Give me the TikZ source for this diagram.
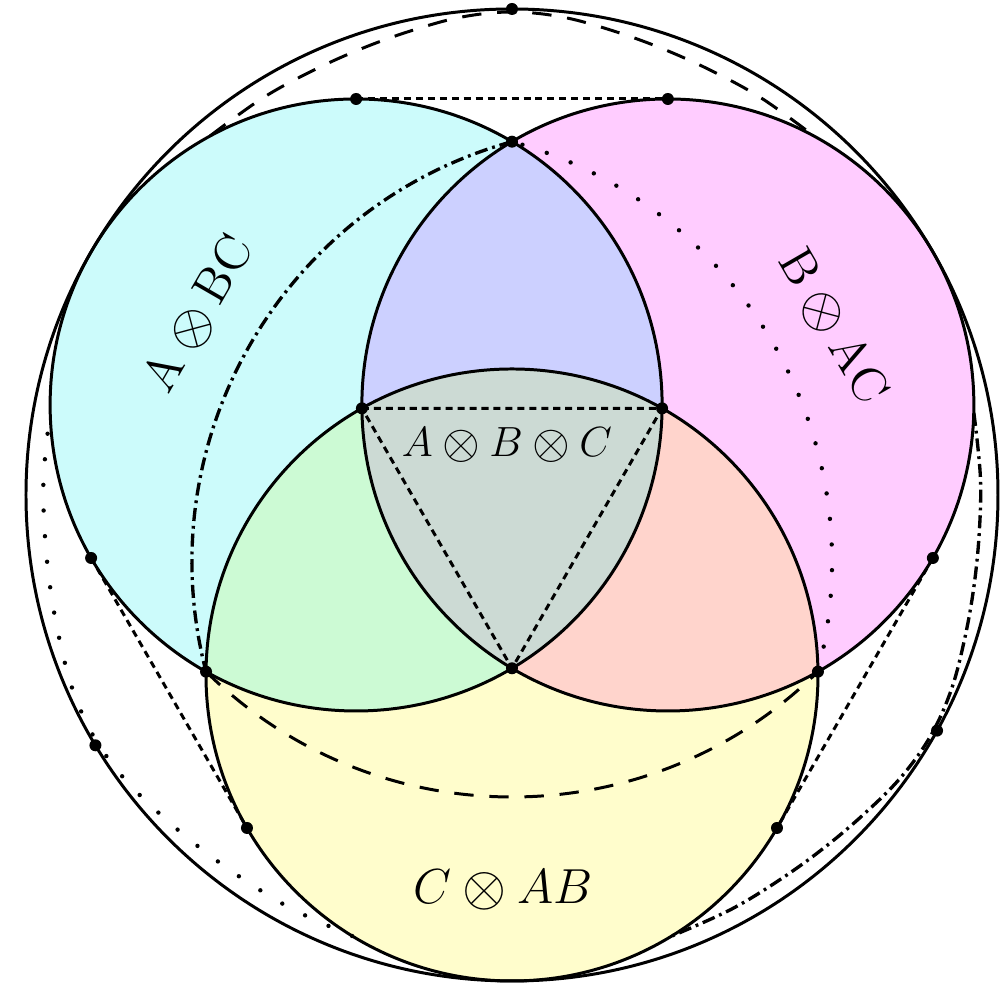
\documentclass[tikz,border=0pt]{standalone}
\usepackage{fix-cm}
\usepackage{amsmath}
\usepackage{tikz}

\definecolor{fillA}{RGB}{204,251,251}
\definecolor{fillB}{RGB}{255,204,255}
\definecolor{fillC}{RGB}{255,253,204}
\definecolor{fillAB}{RGB}{204,208,255}
\definecolor{fillAC}{RGB}{204,250,212}
\definecolor{fillBC}{RGB}{255,212,204}
\definecolor{fillABC}{RGB}{204,218,212}

% a slightly larger tensor sign
\newcommand\opx{\mathbin{\vcenter{\hbox{\scalebox{1.15}{$\otimes$}}}}}

\begin{document}
\begin{tikzpicture}[x=0.01cm, y=0.01cm,
    edge/.style={line width=0.85pt},
    tangent/.style={line width=0.85pt, dash pattern=on 2pt off 1.4pt},
    longdash/.style={line width=0.85pt, dash pattern=on 5.5pt off 4.5pt},
    dashdot/.style={line width=0.95pt, dash pattern=on 3.7pt off 1.4pt on 0.8pt off 1.4pt},
    dotline/.style={line width=1.25pt, line cap=round, dash pattern=on 0pt off 7.3pt},
    label/.style={font=\fontsize{14}{16}\selectfont}]
  % Frame: origin at the centre of the big circle
  \useasboundingbox (-512,-488) rectangle (496,495);
  \def\Rbig{486}   % big circle
  \def\dS{180}     % offset of the three centres
  \def\rS{306}     % radius of the three circles
  \def\tout{353.3} % outer crossings
  \def\tin{173.3}  % inner crossings

  % Centres and crossings
  \coordinate (O) at (0,0);
  \coordinate (cA) at (150:\dS);
  \coordinate (cB) at (30:\dS);
  \coordinate (cC) at (270:\dS);
  \coordinate (pAB) at (90:\tout);
  \coordinate (pAC) at (210:\tout);
  \coordinate (pBC) at (330:\tout);
  \coordinate (qAB) at (270:\tin);
  \coordinate (qAC) at (30:\tin);
  \coordinate (qBC) at (150:\tin);

  % Tangent points
  \path (cA) ++(90:\rS) coordinate (tAtop);
  \path (cB) ++(90:\rS) coordinate (tBtop);
  \path (cA) ++(210:\rS) coordinate (tAlow);
  \path (cC) ++(210:\rS) coordinate (tCa);
  \path (cB) ++(330:\rS) coordinate (tBlow);
  \path (cC) ++(330:\rS) coordinate (tCb);
  \coordinate (gTop) at (90:\Rbig);
  \coordinate (gLeft) at (211:\Rbig);
  \coordinate (gRight) at (331:\Rbig);

  % Region fills
  \fill[fillA] (cA) circle[radius=\rS];
  \fill[fillB] (cB) circle[radius=\rS];
  \fill[fillC] (cC) circle[radius=\rS];
  \begin{scope}
    \clip (cB) circle[radius=\rS];
    \fill[fillBC] (cC) circle[radius=\rS];
  \end{scope}
  \begin{scope}
    \clip (cA) circle[radius=\rS];
    \fill[fillAB] (cB) circle[radius=\rS];
    \fill[fillAC] (cC) circle[radius=\rS];
    \clip (cB) circle[radius=\rS];
    \fill[fillABC] (cC) circle[radius=\rS];
  \end{scope}

  % Circles
  \draw[edge] (O) circle[radius=\Rbig];
  \foreach \c in {cA,cB,cC}
    \draw[edge] (\c) circle[radius=\rS];

  % Outer arcs between pairs of circles
  \foreach \ang/\sty in {0/longdash, 120/dotline, -120/dashdot}
    \draw[\sty, rotate=\ang] plot[smooth, tension=0.6] coordinates {
      (-302,359) (-250,396.5) (-200,424) (-150,446.5) (-100,464.5)
      (-50,478) (0,483) (50,478) (100,464.5) (150,446.5)
      (200,424) (250,396.5) (302,359)};

  % Inner arcs through the outer crossings
  \draw[longdash] (pAC) arc[start angle=225.44, end angle=314.56, radius=436.1];
  \draw[dashdot] (pAB) arc[start angle=105.44, end angle=194.56, radius=436.1];
  \draw[dotline] (pBC) arc[start angle=345.44, end angle=434.56, radius=436.1];

  % Common tangents and inner triangle
  \draw[tangent] (tAtop) -- (tBtop);
  \draw[tangent] (tAlow) -- (tCa);
  \draw[tangent] (tBlow) -- (tCb);
  \draw[tangent] (qBC) -- (qAC) -- (qAB) -- cycle;

  % Points
  \foreach \p in {pAB,pAC,pBC,qAB,qAC,qBC,tAtop,tBtop,tAlow,tBlow,tCa,tCb,gTop,gLeft,gRight}
    \fill (\p) circle[radius=6];

  % Labels
  \node[font=\fontsize{12}{14}\selectfont] (lblABC) at (-5,50) {$A\opx B\opx C$};
  \node[label, rotate=60] (lblA) at (-312,180) {$\mathrm{A}\opx\mathrm{BC}$};
  \node[label, rotate=-60] (lblB) at (320,168) {$\mathrm{B}\opx\mathrm{AC}$};
  \node[label] (lblC) at (-9,-395) {$C\opx AB$};
\end{tikzpicture}
\end{document}
